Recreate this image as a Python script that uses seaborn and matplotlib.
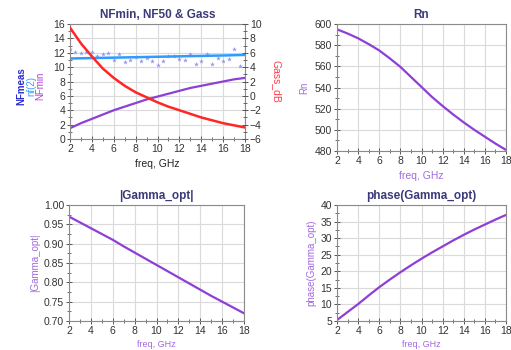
import matplotlib
matplotlib.use("Agg")
import matplotlib.pyplot as plt
from matplotlib.ticker import MultipleLocator, FormatStrFormatter
import pandas as pd
import seaborn as sns

sns.set_theme(style="white")
plt.rcParams["font.family"] = ["Liberation Sans", "DejaVu Sans"]

# frequency grid for the simulated curves (GHz)
freq = [2, 3, 4, 5, 6, 7, 8, 9, 10, 11, 12, 13, 14, 15, 16, 17, 18]
nfmin = [1.5, 2.2, 2.8, 3.4, 4.0, 4.5, 5.0, 5.5, 5.9, 6.3, 6.7, 7.1, 7.4, 7.7, 8.0, 8.3, 8.5]
nf2 = [11.20, 11.23, 11.26, 11.29, 11.32, 11.35, 11.38, 11.41, 11.44, 11.47,
       11.50, 11.53, 11.56, 11.59, 11.62, 11.66, 11.70]
gass_db = [9.5, 7.3, 5.5, 3.8, 2.5, 1.4, 0.5, -0.2, -0.9, -1.5, -2.0, -2.5,
           -3.0, -3.4, -3.8, -4.1, -4.4]
rn = [595, 591, 586.5, 581, 575, 567.5, 559.5, 550, 540.5, 531, 522.5, 514.5,
      507, 500, 493.5, 487, 481]
gamma_mag = [0.970, 0.955, 0.940, 0.925, 0.910, 0.893, 0.877, 0.861, 0.845,
             0.829, 0.813, 0.797, 0.781, 0.765, 0.750, 0.735, 0.720]
gamma_phase = [5.3, 7.7, 10.1, 12.7, 15.2, 17.5, 19.7, 21.8, 23.8, 25.7, 27.5,
               29.3, 31.0, 32.6, 34.1, 35.6, 37.0]

# measured noise figure points
meas_freq = [2.0, 2.5, 3.0, 3.5, 4.0, 4.5, 5.0, 5.5, 6.0, 6.5, 7.0, 7.5, 8.0, 8.5,
             9.0, 9.5, 10.0, 10.5, 11.0, 11.5, 12.0, 12.5, 13.0, 13.5, 14.0, 14.5,
             15.0, 15.5, 16.0, 16.5, 17.0, 17.5]
nfmeas = [12.5, 12.1, 12.0, 12.1, 12.1, 11.6, 11.8, 11.9, 11.0, 11.8, 10.7, 11.0,
          11.4, 10.9, 11.3, 10.9, 10.3, 10.8, 11.5, 11.6, 11.1, 11.0, 11.8, 10.5,
          10.8, 11.8, 10.4, 11.3, 10.9, 11.2, 12.5, 10.2]

df = pd.DataFrame({"freq": freq, "nfmin": nfmin, "nf2": nf2, "gass": gass_db,
                   "rn": rn, "gmag": gamma_mag, "gphase": gamma_phase})
df_meas = pd.DataFrame({"freq": meas_freq, "nfmeas": nfmeas})

W, H = 511, 350
fig = plt.figure(figsize=(W / 100, H / 100), dpi=100)


def make_axes(left, right, top, bottom):
    return fig.add_axes([left / W, 1 - bottom / H, (right - left) / W, (bottom - top) / H])


TITLE_C = "#3a3a78"
PURPLE = "#8e3fd6"
LPURPLE = "#a06ae0"
GRID = "#dadada"


def style(ax, ymajor, yminor):
    ax.set_xlim(2, 18)
    ax.xaxis.set_major_locator(MultipleLocator(2))
    ax.xaxis.set_minor_locator(MultipleLocator(1))
    ax.yaxis.set_major_locator(MultipleLocator(ymajor))
    ax.yaxis.set_minor_locator(MultipleLocator(yminor))
    ax.grid(True, which="major", color=GRID, lw=0.8)
    ax.set_axisbelow(True)
    for s in ax.spines.values():
        s.set_color("#8a8a8a")
        s.set_linewidth(0.8)
    ax.tick_params(which="major", direction="inout", length=4, width=0.7,
                   colors="#555555", labelsize=7.5, labelcolor="#333333", pad=1.5,
                   left=True, bottom=True)
    ax.tick_params(which="minor", direction="inout", length=2.5, width=0.6,
                   colors="#555555", left=True, bottom=True)


# --- NFmin, NF50 & Gass ---
ax1 = make_axes(70, 245, 24, 139)
sns.lineplot(data=df, x="freq", y="nf2", ax=ax1, color="#2f9bff", lw=1.8)
sns.scatterplot(data=df_meas, x="freq", y="nfmeas", ax=ax1, color="#9494ee",
                marker="*", s=13, linewidth=0)
sns.lineplot(data=df, x="freq", y="nfmin", ax=ax1, color=PURPLE, lw=1.6)
ax1.set_ylim(0, 16)
style(ax1, 2, 1)
ax1.set_xlabel("freq, GHz", fontsize=7.5, color="#222222", labelpad=4)
ax1.set_ylabel("")
ax1.set_title("NFmin, NF50 & Gass", fontsize=8.5, fontweight="bold", color=TITLE_C, pad=4)
fig.text(21 / W, 1 - 86 / H, "NFmeas", rotation=90, color="#2a2ad0", fontsize=7,
         ha="center", va="center", fontweight="bold")
fig.text(31 / W, 1 - 86 / H, "nf(2)", rotation=90, color="#3aa0ff", fontsize=7,
         ha="center", va="center")
fig.text(40 / W, 1 - 86 / H, "NFmin", rotation=90, color="#b040d8", fontsize=7,
         ha="center", va="center")

ax1r = ax1.twinx()
sns.lineplot(data=df, x="freq", y="gass", ax=ax1r, color="#ff2626", lw=1.8)
ax1r.set_ylim(-6, 10)
ax1r.yaxis.set_major_locator(MultipleLocator(2))
ax1r.yaxis.set_minor_locator(MultipleLocator(1))
for s in ax1r.spines.values():
    s.set_visible(False)
ax1r.tick_params(which="major", direction="inout", length=4, width=0.7, colors="#555555",
                 labelsize=7.5, labelcolor="#333333", pad=1.5, right=True)
ax1r.tick_params(which="minor", direction="inout", length=2.5, width=0.6,
                 colors="#555555", right=True)
ax1r.set_ylabel("Gass_dB", color="#ff3a4a", fontsize=7.5, rotation=-90, labelpad=14)
ax1r.grid(False)

# --- Rn ---
ax2 = make_axes(337, 506, 24, 151)
sns.lineplot(data=df, x="freq", y="rn", ax=ax2, color=PURPLE, lw=1.6)
ax2.set_ylim(480, 600)
style(ax2, 20, 10)
ax2.set_title("Rn", fontsize=8.5, fontweight="bold", color=TITLE_C, pad=4)
ax2.set_xlabel("freq, GHz", fontsize=7.5, color=LPURPLE, labelpad=4)
ax2.set_ylabel("Rn", fontsize=7, color=LPURPLE, labelpad=4)

# --- |Gamma_opt| ---
ax3 = make_axes(69, 244, 205, 321)
sns.lineplot(data=df, x="freq", y="gmag", ax=ax3, color=PURPLE, lw=1.6)
ax3.set_ylim(0.70, 1.00)
style(ax3, 0.05, 0.025)
ax3.yaxis.set_major_formatter(FormatStrFormatter("%.2f"))
ax3.set_title("|Gamma_opt|", fontsize=8.5, fontweight="bold", color=TITLE_C, pad=4)
ax3.set_xlabel("freq, GHz", fontsize=6.5, color=LPURPLE, labelpad=3)
ax3.set_ylabel("|Gamma_opt|", fontsize=7, color=LPURPLE, labelpad=3)

# --- phase(Gamma_opt) ---
ax4 = make_axes(337, 506, 205, 321)
sns.lineplot(data=df, x="freq", y="gphase", ax=ax4, color=PURPLE, lw=1.6)
ax4.set_ylim(5, 40)
style(ax4, 5, 2.5)
ax4.set_title("phase(Gamma_opt)", fontsize=8.5, fontweight="bold", color=TITLE_C, pad=4)
ax4.set_xlabel("freq, GHz", fontsize=6.5, color=LPURPLE, labelpad=3)
ax4.set_ylabel("phase(Gamma_opt)", fontsize=7, color=LPURPLE, labelpad=3)

fig.savefig("out.png", dpi=100)
